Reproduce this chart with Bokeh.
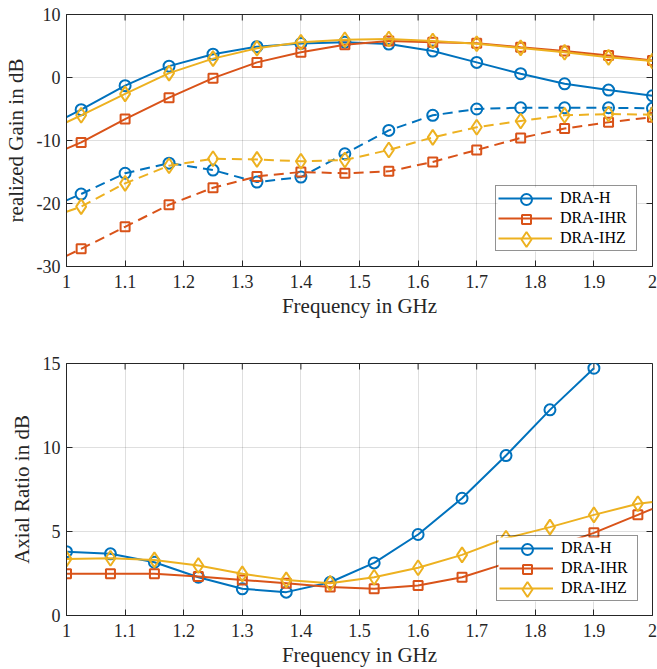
import math
from bokeh.plotting import figure
from bokeh.layouts import column
from bokeh.models import (Range1d, FixedTicker, CustomJSTickFormatter, Legend, LegendItem)
from bokeh.embed import file_html
from bokeh.resources import INLINE

nan = float("nan")

# ---------------- data ----------------
series_names = ["DRA-H", "DRA-IHR", "DRA-IHZ"]
colors = ["#0072BD", "#D95319", "#EDB120"]
markers = ["circle", "square", "diamond"]

freq_gain = [1.0, 1.025, 1.1, 1.175, 1.25, 1.325, 1.4, 1.475, 1.55, 1.625, 1.7, 1.775, 1.85, 1.925, 2.0]
gain_H_solid = [-6.3, -5.1, -1.3, 1.8, 3.7, 4.9, 5.4, 5.6, 5.3, 4.2, 2.4, 0.6, -1.0, -2.0, -2.9]
gain_IHR_solid = [-11.3, -10.3, -6.6, -3.2, -0.1, 2.4, 4.0, 5.2, 5.8, 5.6, 5.45, 4.8, 4.2, 3.5, 2.7]
gain_IHZ_solid = [-7.1, -6.0, -2.6, 0.7, 3.0, 4.65, 5.6, 6.0, 6.1, 5.8, 5.35, 4.7, 4.0, 3.2, 2.6]
gain_H_dash = [-19.5, -18.5, -15.2, -13.6, -14.7, -16.6, -15.8, -12.1, -8.4, -6.0, -5.0, -4.8, -4.8, -4.8, -4.9]
gain_IHR_dash = [-28.3, -27.2, -23.7, -20.2, -17.5, -15.7, -15.0, -15.2, -14.9, -13.4, -11.5, -9.6, -8.1, -7.1, -6.3]
gain_IHZ_dash = [-21.3, -20.5, -16.8, -14.0, -12.9, -13.0, -13.3, -13.1, -11.5, -9.5, -7.9, -6.9, -6.0, -5.8, -5.9]

freq_ar = [1.0, 1.075, 1.15, 1.225, 1.3, 1.375, 1.45, 1.525, 1.6, 1.675, 1.75, 1.825, 1.9, 1.975, 2.0]
ar_H = [3.8, 3.67, 3.17, 2.28, 1.59, 1.39, 1.98, 3.13, 4.82, 6.98, 9.52, 12.24, 14.72, nan, nan]
ar_IHR = [2.48, 2.48, 2.48, 2.32, 2.12, 1.92, 1.69, 1.59, 1.79, 2.28, 3.1, 4.0, 4.92, 5.99, 6.35]
ar_IHZ = [3.37, 3.41, 3.31, 2.98, 2.48, 2.12, 1.92, 2.28, 2.84, 3.61, 4.6, 5.26, 5.99, 6.65, 6.75]

x_ticks = [1, 1.1, 1.2, 1.3, 1.4, 1.5, 1.6, 1.7, 1.8, 1.9, 2]
gain_ticks = [-30, -20, -10, 0, 10]
ar_ticks = [0, 5, 10, 15]

# ---------------- styling constants ----------------
FONT = "Liberation Serif"
TXT = "#262626"
FW, FH = 586, 252          # frame size in px
TICK = 6                   # inward tick length in px
MSIZE = {"circle": 11, "square": 9, "diamond": 15}
LEG_PAD, LEG_GW, LEG_GH, LEG_STAND, LEG_LW = 2, 54, 20, 8, 74
fmt = CustomJSTickFormatter(code="return tick.toString();")


def px_to_data(p, px, py):
    xr, yr = p.x_range, p.y_range
    return (xr.start + px / FW * (xr.end - xr.start),
            yr.start + py / FH * (yr.end - yr.start))


def style(p, yticks, ylabel):
    p.xaxis.ticker = FixedTicker(ticks=x_ticks)
    p.yaxis.ticker = FixedTicker(ticks=yticks)
    p.xaxis.formatter = fmt
    p.yaxis.formatter = fmt
    p.xaxis.axis_label = "Frequency in GHz"
    p.yaxis.axis_label = ylabel
    for ax in (p.xaxis, p.yaxis):
        ax.axis_label_text_font = FONT
        ax.axis_label_text_font_size = "21px"
        ax.axis_label_text_font_style = "normal"
        ax.axis_label_text_color = TXT
        ax.major_label_text_font = FONT
        ax.major_label_text_font_size = "18px"
        ax.major_label_text_color = TXT
        ax.axis_line_color = TXT
        ax.major_tick_line_color = TXT
        ax.major_tick_in = TICK
        ax.major_tick_out = 0
        ax.minor_tick_line_color = None
    p.xaxis.major_label_standoff = 8
    p.xaxis.axis_label_standoff = 3
    p.yaxis.major_label_standoff = 6
    p.yaxis.axis_label_standoff = 6
    p.grid.grid_line_color = TXT
    p.grid.grid_line_alpha = 0.15
    p.outline_line_color = TXT
    p.outline_line_width = 1
    p.background_fill_color = "white"
    p.border_fill_color = "white"
    # mirrored ticks on top and right edges of the box
    _, ytop_in = px_to_data(p, 0, FH - TICK)
    xright_in, _ = px_to_data(p, FW - TICK, 0)
    ymax = p.y_range.end
    xmax = p.x_range.end
    p.segment(x0=x_ticks, x1=x_ticks, y0=[ytop_in] * len(x_ticks), y1=[ymax] * len(x_ticks),
              line_color=TXT, line_width=1)
    p.segment(x0=[xright_in] * len(yticks), x1=[xmax] * len(yticks), y0=yticks, y1=yticks,
              line_color=TXT, line_width=1)


def add_legend(p, line_renderers, margin):
    box_w = 2 * LEG_PAD + LEG_GW + LEG_STAND + LEG_LW
    box_h = 2 * LEG_PAD + 3 * LEG_GH
    # white legend background drawn as a glyph so that the markers can sit on top of it
    l, b = px_to_data(p, FW - margin - box_w, margin)
    r_, t = px_to_data(p, FW - margin, margin + box_h)
    p.quad(left=[l], right=[r_], bottom=[b], top=[t], fill_color="white", line_color=None)
    cx_px = FW - margin - box_w + LEG_PAD + LEG_GW / 2
    top_px = margin + box_h
    for i in range(3):
        cy_px = top_px - LEG_PAD - LEG_GH / 2 - i * LEG_GH
        cx, cy = px_to_data(p, cx_px, cy_px)
        p.scatter([cx], [cy], marker=markers[i], size=MSIZE[markers[i]],
                  line_color=colors[i], line_width=2, fill_color=None)
    items = [LegendItem(label=series_names[i], renderers=[line_renderers[i]]) for i in range(3)]
    leg = Legend(items=items, location="bottom_right", margin=margin,
                 label_text_font=FONT, label_text_font_size="16px", label_text_color="black",
                 glyph_width=LEG_GW, glyph_height=LEG_GH, label_height=LEG_GH, label_width=LEG_LW,
                 label_standoff=LEG_STAND, padding=LEG_PAD, spacing=0,
                 border_line_color=TXT, border_line_width=1,
                 background_fill_alpha=0.0)
    p.add_layout(leg)


# ---------------- top: realized gain ----------------
p1 = figure(frame_width=FW, frame_height=FH, output_backend="svg", toolbar_location=None,
            x_range=Range1d(1, 2), y_range=Range1d(-30, 10),
            min_border_left=66, min_border_right=5, min_border_top=14, min_border_bottom=64)
style(p1, gain_ticks, "realized Gain in dB")

solid = [gain_H_solid, gain_IHR_solid, gain_IHZ_solid]
dashed = [gain_H_dash, gain_IHR_dash, gain_IHZ_dash]
for i in range(3):
    c, m = colors[i], markers[i]
    p1.line(freq_gain, dashed[i], line_color=c, line_width=2, line_dash="10 6")
    p1.scatter(freq_gain[1:], dashed[i][1:], marker=m, size=MSIZE[m], line_color=c,
               line_width=2, fill_color=None)
lines1 = []
for i in range(3):
    c, m = colors[i], markers[i]
    lines1.append(p1.line(freq_gain, solid[i], line_color=c, line_width=2))
    p1.scatter(freq_gain[1:], solid[i][1:], marker=m, size=MSIZE[m], line_color=c,
               line_width=2, fill_color=None)
add_legend(p1, lines1, 15)

# ---------------- bottom: axial ratio ----------------
p2 = figure(frame_width=FW, frame_height=FH, output_backend="svg", toolbar_location=None,
            x_range=Range1d(1, 2), y_range=Range1d(0, 15),
            min_border_left=66, min_border_right=5, min_border_top=33, min_border_bottom=54)
style(p2, ar_ticks, "Axial Ratio in dB")

ar = [ar_H, ar_IHR, ar_IHZ]
lines2 = []
for i in range(3):
    c, m = colors[i], markers[i]
    lines2.append(p2.line(freq_ar, ar[i], line_color=c, line_width=2))
    p2.scatter(freq_ar[:-1], ar[i][:-1], marker=m, size=MSIZE[m], line_color=c,
               line_width=2, fill_color=None)
add_legend(p2, lines2, 14)

layout = column(p1, p2, spacing=0)
open("out.html", "w").write(file_html(layout, INLINE))
